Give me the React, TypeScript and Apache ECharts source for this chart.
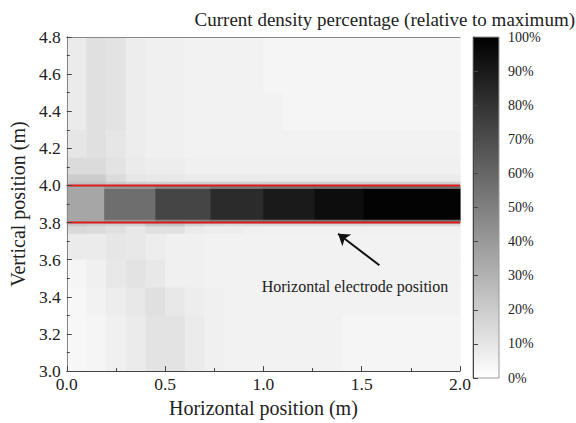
import { useEffect, useRef } from 'react';
import * as echarts from 'echarts';

// Cell column edges (m)
const colEdges = [0, 0.1, 0.2, 0.3, 0.4, 0.5, 0.6, 0.7, 0.8, 0.9, 1.0, 1.1, 1.2, 1.3, 1.4, 1.5, 1.6, 1.7, 1.8, 1.9, 2.0];
// Row extents (m)
const rowTops = [4.8, 4.5, 4.3, 4.15, 4.06, 4.02, 3.8, 3.78, 3.74, 3.6, 3.45, 3.3];
const rowBottoms = [4.5, 4.3, 4.15, 4.06, 4.02, 4.0, 3.78, 3.74, 3.6, 3.45, 3.3, 3.0];
// Current density percentages, one array per row, one value per column
const row450_480 = [8, 12, 11, 7, 6, 6, 5, 5, 5, 5, 4, 4, 4, 4, 4, 4, 4, 4, 4, 4];
const row430_450 = [8, 12, 11, 7, 6, 6, 5, 5, 5, 5, 5, 4, 4, 4, 4, 4, 4, 4, 4, 4];
const row415_430 = [10, 12, 10, 7, 6, 6, 5, 5, 5, 5, 5, 5, 5, 5, 5, 5, 5, 5, 5, 5];
const row406_415 = [14, 14, 11, 8, 7, 7, 6, 6, 6, 6, 6, 6, 6, 6, 6, 6, 6, 6, 6, 6];
const row402_406 = [20, 20, 14, 10, 9, 9, 8, 8, 8, 8, 8, 8, 8, 8, 8, 8, 8, 8, 8, 8];
const row400_402 = [24, 24, 21, 19, 19, 19, 19, 19, 19, 19, 19, 19, 19, 19, 19, 19, 19, 19, 19, 19];
const row378_380 = [22, 20, 18, 18, 24, 24, 18, 16, 15, 15, 15, 15, 15, 15, 15, 15, 15, 15, 15, 15];
const row374_378 = [15, 14, 12, 9, 12, 12, 8, 7, 7, 6, 6, 6, 6, 6, 6, 6, 6, 6, 6, 6];
const row360_374 = [8, 8, 10, 9, 7, 6, 6, 5, 5, 5, 5, 5, 5, 5, 5, 5, 5, 5, 5, 5];
const row345_360 = [4, 6, 9, 11, 9, 6, 6, 5, 5, 5, 5, 5, 5, 5, 5, 5, 5, 5, 5, 5];
const row330_345 = [3, 5, 7, 9, 12, 9, 7, 6, 5, 5, 5, 5, 5, 5, 5, 5, 5, 5, 5, 5];
const row300_330 = [3, 4, 6, 8, 11, 11, 8, 6, 5, 5, 5, 5, 5, 5, 4, 4, 4, 4, 4, 4];
const rowValues = [row450_480, row430_450, row415_430, row406_415, row402_406, row400_402, row378_380, row374_378, row360_374, row345_360, row330_345, row300_330];

// Electrode band (between 3.8 m and 4.0 m)
const bandEdges = [0, 0.19, 0.45, 0.73, 1.0, 1.26, 1.51, 2.0];
const bandCoreValues = [35, 57, 73, 83, 90, 95, 99];
const bandRimValues = [35, 42, 48, 52, 54, 55, 56];
const bandBottom = 3.8;
const bandCoreBottom = 3.815;
const bandCoreTop = 3.985;
const bandTop = 4.0;

// Electrode outline (m)
const electrodeLines = [4.0, 3.8];
// Arrow (m)
const arrowTail = [1.59, 3.57];
const arrowHead = [1.38, 3.74];

const SERIF = '"Liberation Serif", "Times New Roman", serif';

export default function App() {
  const ref = useRef<HTMLDivElement>(null);
  useEffect(() => {
    if (!ref.current) return;
    const chart = echarts.init(ref.current, undefined, { renderer: 'svg' });

    const cells: number[][] = [];
    rowValues.forEach((row, r) => {
      row.forEach((v, c) => {
        cells.push([colEdges[c], colEdges[c + 1], rowBottoms[r], rowTops[r], v]);
      });
    });
    bandCoreValues.forEach((v, i) => {
      cells.push([bandEdges[i], bandEdges[i + 1], bandCoreBottom, bandCoreTop, v]);
      cells.push([bandEdges[i], bandEdges[i + 1], bandBottom, bandCoreBottom, bandRimValues[i]]);
      cells.push([bandEdges[i], bandEdges[i + 1], bandCoreTop, bandTop, bandRimValues[i]]);
    });

    const axisFont = { fontFamily: SERIF, color: '#222' };

    chart.setOption({
      animation: false,
      backgroundColor: '#fff',
      grid: [
        { left: 62, top: 37, width: 398, height: 341, show: false },
        {
          left: 473, top: 37, width: 26, height: 341, show: true,
          borderColor: '#999', borderWidth: 1,
          backgroundColor: new echarts.graphic.LinearGradient(0, 0, 0, 1, [
            { offset: 0, color: '#000000' },
            { offset: 1, color: '#ffffff' },
          ]),
        },
      ],
      visualMap: {
        type: 'continuous', min: 0, max: 100, dimension: 4, seriesIndex: 0, show: false,
        inRange: { color: ['#ffffff', '#000000'] },
      },
      xAxis: [
        {
          gridIndex: 0, type: 'value', min: 0, max: 2, interval: 0.5, z: 10,
          name: 'Horizontal position (m)', nameLocation: 'middle', nameGap: 23,
          nameTextStyle: { ...axisFont, fontSize: 20 },
          axisLine: { show: true, lineStyle: { color: '#444', width: 1 } },
          axisTick: { show: true, inside: true, length: 5, lineStyle: { color: '#444' } },
          minorTick: { show: true, splitNumber: 2, length: 3, lineStyle: { color: '#444' } },
          splitLine: { show: false },
          axisLabel: { ...axisFont, fontSize: 17.5, margin: 4, formatter: (v: number) => v.toFixed(1) },
        },
        {
          gridIndex: 0, type: 'value', position: 'top', min: 0, max: 2, z: 10,
          axisLine: { show: true, lineStyle: { color: '#888', width: 1 } },
          axisTick: { show: false }, axisLabel: { show: false }, splitLine: { show: false },
        },
        { gridIndex: 1, type: 'value', min: 0, max: 1, show: false },
      ],
      yAxis: [
        {
          gridIndex: 0, type: 'value', min: 3.0, max: 4.8, interval: 0.2, z: 10,
          name: 'Vertical position (m)', nameLocation: 'middle', nameGap: 28,
          nameTextStyle: { ...axisFont, fontSize: 20 },
          axisLine: { show: true, lineStyle: { color: '#444', width: 1 } },
          axisTick: { show: true, inside: true, length: 5, lineStyle: { color: '#444' } },
          minorTick: { show: true, splitNumber: 2, length: 3, lineStyle: { color: '#444' } },
          splitLine: { show: false },
          axisLabel: { ...axisFont, fontSize: 17.5, margin: 6, formatter: (v: number) => v.toFixed(1) },
        },
        {
          gridIndex: 0, type: 'value', position: 'right', min: 3.0, max: 4.8, z: 10,
          axisLine: { show: true, lineStyle: { color: '#888', width: 1 } },
          axisTick: { show: false }, axisLabel: { show: false }, splitLine: { show: false },
        },
        {
          gridIndex: 1, type: 'value', position: 'right', min: 0, max: 100, interval: 10, z: 10,
          axisLine: { show: true, lineStyle: { color: '#444', width: 1 } },
          axisTick: { show: true, inside: false, length: 5, lineStyle: { color: '#444' } },
          splitLine: { show: false },
          axisLabel: { ...axisFont, fontSize: 14, margin: 9, formatter: '{value}%' },
        },
      ],
      series: [
        {
          type: 'custom',
          xAxisIndex: 0, yAxisIndex: 0,
          clip: true,
          encode: { x: [0, 1], y: [2, 3] },
          data: cells,
          renderItem: (params: any, api: any) => {
            const p0 = api.coord([api.value(0), api.value(3)]);
            const p1 = api.coord([api.value(1), api.value(2)]);
            return {
              type: 'rect',
              shape: { x: p0[0], y: p0[1], width: p1[0] - p0[0] + 0.6, height: p1[1] - p0[1] + 0.6 },
              style: { fill: api.visual('color') },
            };
          },
          z: 1,
        },
        ...electrodeLines.map((y, i) => ({
          type: 'line',
          xAxisIndex: 0, yAxisIndex: 0,
          data: [[0, y], [2, y]],
          symbol: 'none',
          lineStyle: { color: '#d91c1c', width: 2 },
          z: 5,
          silent: true,
          markLine: i === 0 ? {
            silent: true,
            symbol: ['none', 'arrow'],
            symbolSize: 11,
            label: { show: false },
            lineStyle: { color: '#111', width: 2, type: 'solid' },
            data: [[{ coord: arrowTail }, { coord: arrowHead }]],
          } : undefined,
        })),
      ],
      graphic: [
        {
          type: 'text', x: 575, y: 19,
          style: {
            text: 'Current density percentage (relative to maximum)',
            font: `19px ${SERIF}`, fill: '#222', textAlign: 'right', textVerticalAlign: 'middle',
          },
        },
        {
          type: 'text', x: 355, y: 286, z: 20,
          style: {
            text: 'Horizontal electrode position',
            font: `16px ${SERIF}`, fill: '#222', textAlign: 'center', textVerticalAlign: 'middle',
          },
        },
      ],
    });
    return () => chart.dispose();
  }, []);
  return <div ref={ref} style={{ position: 'fixed', left: 0, top: 0, width: 576, height: 423 }} />;
}
